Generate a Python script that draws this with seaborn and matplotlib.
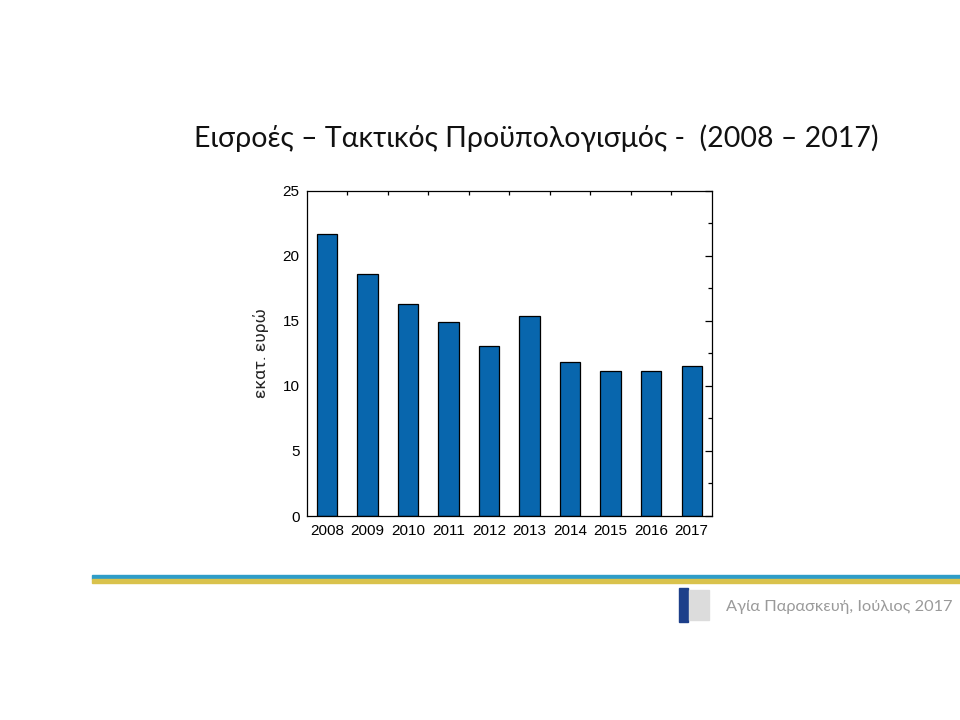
import matplotlib
matplotlib.use('Agg')
import matplotlib.pyplot as plt
from matplotlib.ticker import MultipleLocator, FixedLocator
from matplotlib.patches import Rectangle
import seaborn as sns
import pandas as pd

years = ['2008', '2009', '2010', '2011', '2012', '2013', '2014', '2015', '2016', '2017']
values = [21.7, 18.6, 16.3, 14.9, 13.1, 15.4, 11.8, 11.15, 11.15, 11.5]

title = 'Εισροές – Τακτικός Προϋπολογισμός -  (2008 – 2017)'
ylabel = 'εκατ. ευρώ'
footer = 'Αγία Παρασκευή, Ιούλιος 2017'

sns.set_style('white')
plt.rcParams['font.family'] = ['Liberation Sans', 'DejaVu Sans']

df = pd.DataFrame({'year': years, 'value': values})

fig = plt.figure(figsize=(9.6, 7.2), dpi=100)
ax = fig.add_axes([0.3194, 0.2833, 0.4222, 0.4518])

sns.barplot(data=df, x='year', y='value', color='#0866ad', saturation=1,
            edgecolor='black', linewidth=0.9, width=0.5, ax=ax)

ax.set_xlim(-0.5, 9.5)
ax.set_ylim(0, 25)
ax.yaxis.set_major_locator(MultipleLocator(5))
ax.yaxis.set_minor_locator(MultipleLocator(2.5))
ax.xaxis.set_minor_locator(FixedLocator([i + 0.5 for i in range(9)]))
ax.tick_params(axis='both', which='both', direction='in', top=True, right=True,
               labelsize=11, colors='black', pad=5)
ax.tick_params(axis='x', which='major', length=0, pad=6)
ax.tick_params(axis='x', which='minor', length=3, width=0.9)
ax.tick_params(axis='y', which='major', length=5, width=0.9)
ax.tick_params(axis='y', which='minor', length=3, width=0.9)
for s in ax.spines.values():
    s.set_color('black')
    s.set_linewidth(0.9)
ax.set_xlabel('')
ax.set_ylabel(ylabel, fontsize=12.5, labelpad=10, family=['Roboto', 'DejaVu Sans'])

fig.text(536.5 / 960, 0.808, title, ha='center', va='center', fontsize=20.5,
         family=['Lato', 'DejaVu Sans'], color='#111111')

# decorative stripes of the slide
fig.patches.append(Rectangle((92 / 960, 1 - 579 / 720), 1, 4 / 720,
                             transform=fig.transFigure, color='#2f9dc8', zorder=1))
fig.patches.append(Rectangle((92 / 960, 1 - 583 / 720), 1, 4 / 720,
                             transform=fig.transFigure, color='#d9c24c', zorder=1))

# logo placeholder
fig.patches.append(Rectangle((679 / 960, 1 - 622 / 720), 9 / 960, 34 / 720,
                             transform=fig.transFigure, color='#1d3f8a', zorder=1))
fig.patches.append(Rectangle((689 / 960, 1 - 620 / 720), 20 / 960, 30 / 720,
                             transform=fig.transFigure, color='#dcdcdc', zorder=1))

fig.text(953 / 960, 1 - 607 / 720, footer, ha='right', va='center', fontsize=11.8,
         family=['Lato', 'DejaVu Sans'], color='#9a9a9a')

fig.savefig('out.png', dpi=100, facecolor='white')
